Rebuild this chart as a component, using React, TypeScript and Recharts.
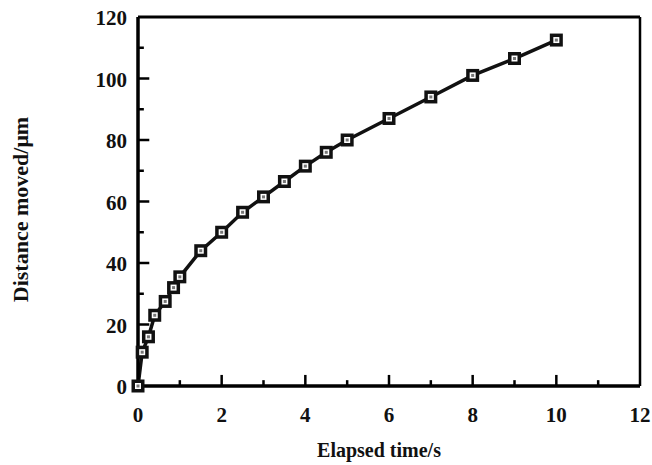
import React from 'react';
import { LineChart, Line, XAxis, YAxis, ReferenceLine } from 'recharts';

const elapsedTime = [0, 0.1, 0.25, 0.4, 0.65, 0.85, 1.0, 1.5, 2, 2.5, 3, 3.5, 4, 4.5, 5, 6, 7, 8, 9, 10];
const distanceMoved = [0, 11, 16, 23, 27.5, 32, 35.5, 44, 50, 56.5, 61.5, 66.5, 71.5, 76, 80, 87, 94, 101, 106.5, 112.5];
const xTicks = [0, 1, 2, 3, 4, 5, 6, 7, 8, 9, 10, 11, 12];
const yTicks = [0, 10, 20, 30, 40, 50, 60, 70, 80, 90, 100, 110, 120];
const xMajor = [0, 2, 4, 6, 8, 10, 12];
const yMajor = [0, 20, 40, 60, 80, 100, 120];

const data = elapsedTime.map((t, i) => ({ t, d: distanceMoved[i] }));

const FONT = "'Liberation Serif', serif";

// inward tick lengths expressed in axis units
const X_TICK_MAJOR = 3.6; // y-units
const X_TICK_MINOR = 1.9;
const Y_TICK_MAJOR = 0.27; // x-units
const Y_TICK_MINOR = 0.14;

const XTick = (props: any) => {
  const { x, payload, viewBox } = props;
  const v = payload.value;
  if (!xMajor.includes(v)) return <g />;
  return (
    <text x={x} y={422} textAnchor="middle" style={{ fontFamily: FONT, fontSize: 21, fontWeight: 700 }} fill="#111">
      {v}
    </text>
  );
};

const YTick = (props: any) => {
  const { y, payload } = props;
  const v = payload.value;
  if (!yMajor.includes(v)) return <g />;
  return (
    <text x={127} y={y + 8} textAnchor="end" style={{ fontFamily: FONT, fontSize: 21, fontWeight: 700 }} fill="#111">
      {v}
    </text>
  );
};

const SquareDot = (props: any) => {
  const { cx, cy, index } = props;
  if (cx == null || cy == null) return null;
  return (
    <g key={`dot-${index}`}>
      <rect x={cx - 6.5} y={cy - 6.5} width={13} height={13} fill="#111" />
      <rect x={cx - 3} y={cy - 3} width={6} height={6} fill="#fff" />
      <rect x={cx - 1.5} y={cy - 1.5} width={3} height={3} fill="#777" />
    </g>
  );
};

const XTitle = (props: any) => {
  const vb = props.viewBox || {};
  const cx = vb.x + vb.width / 2 - 10;
  return (
    <text x={cx} y={457} textAnchor="middle" style={{ fontFamily: FONT, fontSize: 20, fontWeight: 700 }} fill="#111">
      Elapsed time/s
    </text>
  );
};

const YTitle = (props: any) => {
  const vb = props.viewBox || {};
  const cy = vb.y + vb.height / 2 + 8;
  return (
    <text
      transform={`translate(28, ${cy}) rotate(-90)`}
      textAnchor="middle"
      style={{ fontFamily: FONT, fontSize: 22, fontWeight: 700 }}
      fill="#111"
    >
      Distance moved/μm
    </text>
  );
};

export default function App() {
  return (
    <div style={{ position: 'absolute', left: 0, top: 0, width: 652, height: 465, background: '#fff' }}>
      <LineChart width={652} height={465} data={data} margin={{ top: 16, right: 11, bottom: 78, left: 137 }}>
        <XAxis
          dataKey="t"
          type="number"
          domain={[0, 12]}
          ticks={xTicks}
          interval={0}
          height={1}
          tickLine={false}
          tick={<XTick />}
          axisLine={{ stroke: '#000', strokeWidth: 3.5 }}
          label={<XTitle />}
        />
        <XAxis
          xAxisId="top"
          orientation="top"
          dataKey="t"
          type="number"
          domain={[0, 12]}
          height={1}
          tick={false}
          tickLine={false}
          axisLine={{ stroke: '#000', strokeWidth: 3 }}
        />
        <YAxis
          type="number"
          domain={[0, 120]}
          ticks={yTicks}
          interval={0}
          width={1}
          tickLine={false}
          tick={<YTick />}
          axisLine={{ stroke: '#000', strokeWidth: 3.5 }}
          label={<YTitle />}
        />
        <YAxis
          yAxisId="right"
          orientation="right"
          type="number"
          domain={[0, 120]}
          width={1}
          tick={false}
          tickLine={false}
          axisLine={{ stroke: '#000', strokeWidth: 2.5 }}
        />
        {xTicks
          .filter((v) => v !== 0 && v !== 12)
          .map((v) => (
            <ReferenceLine
              key={`xt-${v}`}
              segment={[
                { x: v, y: 0 },
                { x: v, y: xMajor.includes(v) ? X_TICK_MAJOR : X_TICK_MINOR },
              ]}
              stroke="#000"
              strokeWidth={2.5}
              ifOverflow="visible"
            />
          ))}
        {yTicks
          .filter((v) => v !== 0 && v !== 120)
          .map((v) => (
            <ReferenceLine
              key={`yt-${v}`}
              segment={[
                { x: 0, y: v },
                { x: yMajor.includes(v) ? Y_TICK_MAJOR : Y_TICK_MINOR, y: v },
              ]}
              stroke="#000"
              strokeWidth={2.5}
              ifOverflow="visible"
            />
          ))}
        <Line
          dataKey="d"
          type="linear"
          stroke="#111"
          strokeWidth={3.5}
          dot={<SquareDot />}
          isAnimationActive={false}
        />
      </LineChart>
    </div>
  );
}
